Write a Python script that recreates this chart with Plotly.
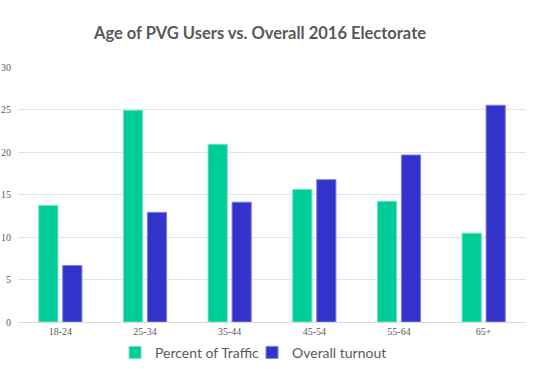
import plotly.graph_objects as go

categories = ["18-24", "25-34", "35-44", "45-54", "55-64", "65+"]
traffic = [13.7, 24.9, 20.9, 15.6, 14.2, 10.45]
turnout = [6.65, 12.9, 14.1, 16.75, 19.65, 25.5]
y_ticks = [0, 5, 10, 15, 20, 25, 30]

fig = go.Figure()
fig.add_trace(go.Bar(
    name="Percent of Traffic", x=categories, y=traffic,
    marker=dict(color="#00CC99", line=dict(color="#70E3C4", width=1)),
))
fig.add_trace(go.Bar(
    name="Overall turnout", x=categories, y=turnout,
    marker=dict(color="#3333CC", line=dict(color="#8080E6", width=1)),
))

fig.update_layout(
    width=535, height=369,
    margin=dict(l=18, r=9, t=67, b=47, autoexpand=False),
    paper_bgcolor="white", plot_bgcolor="white",
    barmode="group", bargap=0.433, bargroupgap=0.2,
    title=dict(
        text="<b>Age of PVG Users vs. Overall 2016 Electorate</b>",
        x=0.486, xanchor="center", y=0.91, yanchor="middle",
        font=dict(family="Lato", size=16.5, color="#595959"),
    ),
    xaxis=dict(
        showgrid=False, showline=True, linecolor="#D9D9D9", linewidth=1,
        tickfont=dict(family="Liberation Serif", size=10, color="#595959"),
        ticks="", automargin=False,
    ),
    yaxis=dict(
        range=[0, 30], tickvals=y_ticks, showgrid=True, gridcolor="#E3E3E3",
        gridwidth=1, zeroline=False, showline=False, ticks="",
        tickfont=dict(family="Liberation Serif", size=10, color="#595959"),
        ticklabelstandoff=6, automargin=False,
    ),
    legend=dict(
        orientation="h", x=0.191, xanchor="left", y=-0.058, yanchor="top",
        font=dict(family="Lato", size=14, color="#595959"),
        entrywidth=92, entrywidthmode="pixels", traceorder="normal",
    ),
    showlegend=True,
)

fig.write_html(
    "out.html",
    config={"displayModeBar": False},
    post_script="document.body.style.margin='0';",
)
